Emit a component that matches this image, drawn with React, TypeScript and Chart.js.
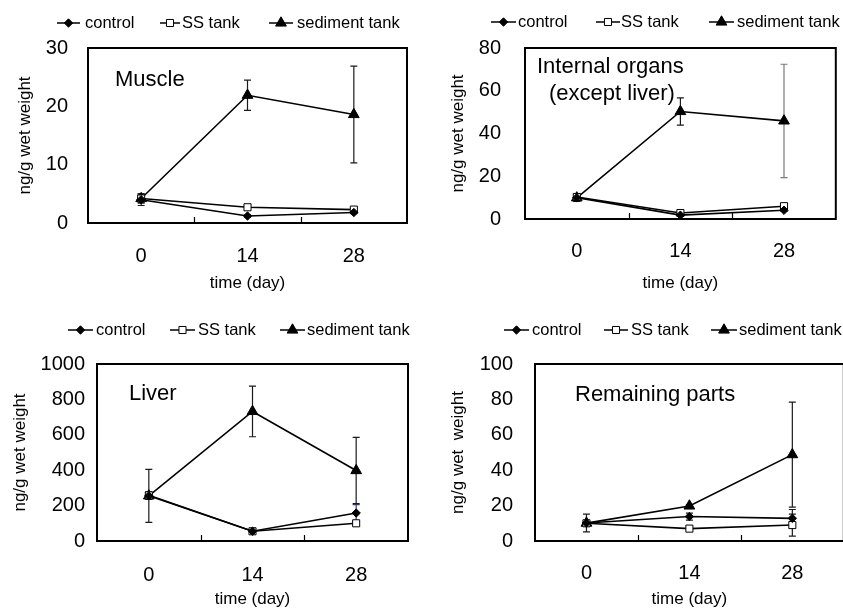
import React, { useEffect, useRef } from 'react';
import { Chart, registerables } from 'chart.js';

Chart.register(...registerables);

// ---------- data ----------
const days = ['0', '14', '28'];
const seriesNames = ['control', 'SS tank', 'sediment tank'];

const muscleControl = [4.0, 1.2, 1.8];
const muscleSS = [4.2, 2.7, 2.3];
const muscleSediment = [4.2, 21.9, 18.6];
const muscleControlErr = [1.0, 0.2, 0.2];
const muscleSSErr = [0.6, 0.3, 0.2];
const muscleSedimentErr = [0.8, 2.6, 8.3];

const organsControl = [10.0, 1.8, 4.1];
const organsSS = [10.3, 2.8, 6.0];
const organsSediment = [9.9, 50.3, 45.9];
const organsControlErr = [1.8, 0.4, 0.6];
const organsSSErr = [1.2, 0.5, 0.8];
const organsSedimentErr = [1.5, 6.4, 26.5];

const liverControl = [255, 55, 158];
const liverSS = [258, 55, 100];
const liverSediment = [255, 732, 398];
const liverControlErr = [150, 12, 47];
const liverSSErr = [20, 10, 10];
const liverSedimentErr = [20, 143, 187];

const remainingControl = [10.2, 13.8, 12.8];
const remainingSS = [10.0, 7.0, 9.0];
const remainingSediment = [10.1, 19.8, 48.8];
const remainingControlErr = [5.0, 2.0, 5.0];
const remainingSSErr = [1.0, 0.5, 6.2];
const remainingSedimentErr = [1.0, 0.8, 29.7];

const muscleAxis = { max: 30, step: 10 };
const organsAxis = { max: 80, step: 20 };
const liverAxis = { max: 1000, step: 200 };
const remainingAxis = { max: 100, step: 20 };

const xTitle = 'time (day)';

// ---------- styling / layout ----------
const FONT = "'Liberation Sans', Arial, Helvetica, sans-serif";

type Note = { text: string; x: number; y: number };
type PanelSpec = {
  left: number; top: number; width: number; height: number;
  area: { l: number; r: number; t: number; b: number };
  axis: { max: number; step: number };
  yTitle: string;
  values: number[][];
  errors: number[][];
  errColors?: (string | null)[][];
  notes: Note[];
  legendY: number;
  legend: [number, number, number][];
  yTickGap: number;
  xLabelPad: number;
  xTitleY: number;
  yTitleX: number;
};

const markerStyles = [
  { style: 'rectRot', r: 4.2, fill: '#000' },
  { style: 'rect', r: 5, fill: '#fff' },
  { style: 'triangle', r: 6.2, fill: '#000' },
];

function drawMarker(ctx: CanvasRenderingContext2D, style: string, x: number, y: number, r: number, fill: string) {
  ctx.save();
  ctx.beginPath();
  if (style === 'rectRot') {
    ctx.moveTo(x - r, y); ctx.lineTo(x, y - r); ctx.lineTo(x + r, y); ctx.lineTo(x, y + r); ctx.closePath();
  } else if (style === 'rect') {
    const s = r * Math.SQRT1_2;
    ctx.rect(x - s, y - s, 2 * s, 2 * s);
  } else {
    let a = 0;
    ctx.moveTo(x + Math.sin(a) * r, y - Math.cos(a) * r);
    a += (2 * Math.PI) / 3;
    ctx.lineTo(x + Math.sin(a) * r, y - Math.cos(a) * r);
    a += (2 * Math.PI) / 3;
    ctx.lineTo(x + Math.sin(a) * r, y - Math.cos(a) * r);
    ctx.closePath();
  }
  ctx.fillStyle = fill;
  ctx.fill();
  ctx.lineWidth = 1;
  ctx.strokeStyle = '#000';
  ctx.stroke();
  ctx.restore();
}

const decorPlugin = {
  id: 'panelDecor',
  beforeDatasetsDraw(chart: any) {
    const ctx: CanvasRenderingContext2D = chart.ctx;
    const xs = chart.scales.x;
    const ys = chart.scales.y;
    ctx.save();
    chart.data.datasets.forEach((ds: any) => {
      (ds.errors || []).forEach((e: number, i: number) => {
        if (!e) return;
        const v = ds.data[i];
        const x = xs.getPixelForValue(i);
        const y1 = ys.getPixelForValue(v + e);
        const y2 = ys.getPixelForValue(Math.max(v - e, 0));
        ctx.strokeStyle = (ds.errorColors && ds.errorColors[i]) || '#1a1a1a';
        ctx.lineWidth = 1.2;
        ctx.beginPath();
        ctx.moveTo(x, y1); ctx.lineTo(x, y2);
        ctx.moveTo(x - 3.5, y1); ctx.lineTo(x + 3.5, y1);
        ctx.moveTo(x - 3.5, y2); ctx.lineTo(x + 3.5, y2);
        ctx.stroke();
      });
    });
    ctx.restore();
  },
  afterDraw(chart: any, _args: any, opts: any) {
    const ctx: CanvasRenderingContext2D = chart.ctx;
    const a = chart.chartArea;
    const xs = chart.scales.x;
    ctx.save();
    // plot box
    ctx.strokeStyle = '#000';
    ctx.lineWidth = 2;
    ctx.strokeRect(a.left, a.top, a.right - a.left, a.bottom - a.top);
    // inner tick marks between categories
    ctx.lineWidth = 1.2;
    ctx.beginPath();
    const n = chart.data.labels.length;
    for (let i = 0; i < n - 1; i++) {
      const xp = Math.round((xs.getPixelForValue(i) + xs.getPixelForValue(i + 1)) / 2) + 0.5;
      ctx.moveTo(xp, a.bottom);
      ctx.lineTo(xp, a.bottom - 6);
    }
    ctx.stroke();
    // annotation text
    ctx.fillStyle = '#000';
    ctx.textBaseline = 'middle';
    ctx.textAlign = 'left';
    ctx.font = `22px ${FONT}`;
    (opts.notes || []).forEach((nt: Note) => ctx.fillText(nt.text, nt.x, nt.y));
    // legend
    ctx.font = `16.5px ${FONT}`;
    chart.data.datasets.forEach((ds: any, i: number) => {
      const [x0, x1, tx] = opts.legend[i];
      const y = opts.legendY;
      ctx.strokeStyle = '#000';
      ctx.lineWidth = 1.5;
      ctx.beginPath();
      ctx.moveTo(x0, y); ctx.lineTo(x1, y);
      ctx.stroke();
      const m = markerStyles[i];
      drawMarker(ctx, m.style, (x0 + x1) / 2, y, m.r, m.fill);
      ctx.fillStyle = '#000';
      ctx.fillText(ds.label, tx, y);
    });
    ctx.restore();
  },
};

function buildConfig(s: PanelSpec): any {
  const W = s.width;
  const H = s.height;
  const a = s.area;
  return {
    type: 'line',
    data: {
      labels: days,
      datasets: s.values.map((vals, i) => ({
        label: seriesNames[i],
        data: vals,
        errors: s.errors[i],
        errorColors: s.errColors ? s.errColors[i] : undefined,
        borderColor: '#000',
        borderWidth: 1.6,
        pointStyle: markerStyles[i].style,
        pointRadius: markerStyles[i].r,
        pointBackgroundColor: markerStyles[i].fill,
        pointBorderColor: '#000',
        pointBorderWidth: 1,
        fill: false,
        tension: 0,
      })),
    },
    options: {
      animation: false,
      responsive: false,
      devicePixelRatio: 1,
      events: [],
      layout: { padding: { left: 0, top: a.t, right: W - a.r, bottom: 0 } },
      plugins: {
        legend: { display: false },
        tooltip: { enabled: false },
        title: { display: false },
        panelDecor: { notes: s.notes, legend: s.legend, legendY: s.legendY },
      },
      scales: {
        x: {
          type: 'category',
          offset: true,
          grid: { display: false, drawTicks: false, offset: true },
          border: { display: false },
          ticks: { color: '#000', font: { family: FONT, size: 20 }, padding: s.xLabelPad, maxRotation: 0, autoSkip: false },
          title: {
            display: true, text: xTitle, color: '#000',
            font: { family: FONT, size: 17, lineHeight: 1 },
            padding: { top: 0, bottom: H - s.xTitleY - 8.5 },
          },
          afterFit: (sc: any) => { sc.height = H - a.b; },
        },
        y: {
          type: 'linear',
          min: 0,
          max: s.axis.max,
          grid: { display: false, drawTicks: false },
          border: { display: false },
          ticks: {
            stepSize: s.axis.step, color: '#000', font: { family: FONT, size: 20 }, padding: s.yTickGap,
            callback: (v: any) => String(v),
          },
          title: {
            display: true, text: s.yTitle, color: '#000',
            font: { family: FONT, size: 17, lineHeight: 1 },
            padding: { top: s.yTitleX - 8.5, bottom: 0 },
          },
          afterFit: (sc: any) => { sc.width = a.l; },
        },
      },
    },
    plugins: [decorPlugin],
  };
}

const panels: PanelSpec[] = [
  {
    left: 0, top: 0, width: 421, height: 304,
    area: { l: 88, r: 407, t: 48, b: 223 },
    axis: muscleAxis,
    yTitle: 'ng/g wet weight',
    values: [muscleControl, muscleSS, muscleSediment],
    errors: [muscleControlErr, muscleSSErr, muscleSedimentErr],
    notes: [{ text: 'Muscle', x: 115, y: 80 }],
    legendY: 23,
    legend: [[57, 80, 85], [160, 180, 182], [269, 293, 297]],
    yTickGap: 20, xLabelPad: 21, xTitleY: 283, yTitleX: 25,
  },
  {
    left: 421, top: 0, width: 422, height: 304,
    area: { l: 104, r: 418, t: 48, b: 219 },
    axis: organsAxis,
    yTitle: 'ng/g wet weight',
    values: [organsControl, organsSS, organsSediment],
    errors: [organsControlErr, organsSSErr, organsSedimentErr],
    errColors: [[null, null, null], [null, null, null], [null, null, '#7a7a7a']],
    notes: [{ text: 'Internal organs', x: 116, y: 67 }, { text: '(except liver)', x: 128, y: 94 }],
    legendY: 22,
    legend: [[70, 95, 97], [175, 199, 200], [288, 313, 316]],
    yTickGap: 24, xLabelPad: 20, xTitleY: 283, yTitleX: 37,
  },
  {
    left: 0, top: 304, width: 421, height: 304,
    area: { l: 97, r: 408, t: 60, b: 237 },
    axis: liverAxis,
    yTitle: 'ng/g wet weight',
    values: [liverControl, liverSS, liverSediment],
    errors: [liverControlErr, liverSSErr, liverSedimentErr],
    errColors: [[null, null, '#3a3a9a'], [null, null, null], [null, null, null]],
    notes: [{ text: 'Liver', x: 129, y: 90 }],
    legendY: 26,
    legend: [[68, 93, 96], [170, 195, 198], [280, 305, 307]],
    yTickGap: 12, xLabelPad: 22, xTitleY: 295, yTitleX: 20,
  },
  {
    left: 421, top: 304, width: 430, height: 304,
    area: { l: 114, r: 424, t: 60, b: 237 },
    axis: remainingAxis,
    yTitle: 'ng/g wet  weight',
    values: [remainingControl, remainingSS, remainingSediment],
    errors: [remainingControlErr, remainingSSErr, remainingSedimentErr],
    notes: [{ text: 'Remaining parts', x: 154, y: 91 }],
    legendY: 26,
    legend: [[83, 108, 111], [183, 207, 210], [290, 316, 318]],
    yTickGap: 22, xLabelPad: 20, xTitleY: 295, yTitleX: 37,
  },
];

function Panel({ spec }: { spec: PanelSpec }) {
  const ref = useRef<HTMLCanvasElement>(null);
  useEffect(() => {
    if (!ref.current) return;
    const chart = new Chart(ref.current, buildConfig(spec));
    return () => chart.destroy();
  }, [spec]);
  return (
    <div style={{ position: 'absolute', left: spec.left, top: spec.top, width: spec.width, height: spec.height }}>
      <canvas ref={ref} width={spec.width} height={spec.height} style={{ display: 'block', width: spec.width, height: spec.height }} />
    </div>
  );
}

export default function App() {
  return (
    <div style={{ position: 'fixed', left: 0, top: 0, width: 843, height: 608, overflow: 'hidden', background: '#fff' }}>
      {panels.map((p, i) => <Panel key={i} spec={p} />)}
    </div>
  );
}
